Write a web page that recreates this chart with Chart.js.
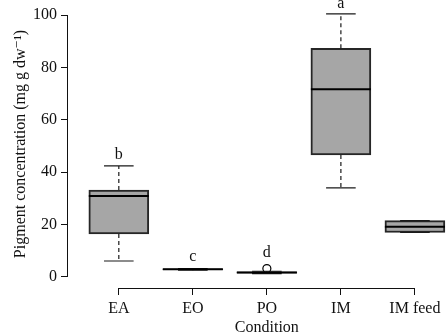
<!DOCTYPE html>
<html>
<head>
<meta charset="utf-8">
<script src="https://cdn.jsdelivr.net/npm/chart.js@4/dist/chart.umd.min.js"></script>
<style>
  html, body { margin: 0; padding: 0; background: #fff; overflow: hidden; }
  #wrap { width: 446px; height: 336px; }
</style>
</head>
<body>
<div id="wrap"><canvas id="chart" width="446" height="336"></canvas></div>
<script>
// data
const categories = ['EA', 'EO', 'PO', 'IM', 'IM feed'];
const mins    = [6.1, 2.6, 1.3, 34.0, 17.0];
const q1s     = [16.4, 2.75, 1.45, 46.6, 17.0];
const medians = [30.9, 2.95, 1.7, 71.7, 19.2];
const q3s     = [33.2, 3.15, 1.95, 87.3, 21.5];
const maxs    = [42.4, 3.25, 2.2, 100.4, 21.5];
const outlierX = [3];
const outlierY = [3.2];
const letters = ['b', 'c', 'd', 'a', ''];
const letterY = [46.6, 7.6, 9.2, 104.2, null];
const yTicks = [0, 20, 40, 60, 80, 100];

const FONT = "'Liberation Serif', 'DejaVu Serif', serif";
const INK = '#111';

// whiskers, caps, medians, letters, R-style axis lines
const boxParts = {
    id: 'boxParts',
    afterDatasetsDraw(chart) {
        const ctx = chart.ctx;
        const xs = chart.scales.x, ys = chart.scales.y;
        const area = chart.chartArea;
        ctx.save();

        // axis lines only over the data range, like R
        ctx.strokeStyle = INK;
        ctx.lineWidth = 1;
        ctx.beginPath();
        ctx.moveTo(area.left + 0.5, ys.getPixelForValue(0));
        ctx.lineTo(area.left + 0.5, ys.getPixelForValue(100));
        ctx.moveTo(xs.getPixelForValue(1), area.bottom + 0.5);
        ctx.lineTo(xs.getPixelForValue(categories.length), area.bottom + 0.5);
        ctx.stroke();

        categories.forEach((c, i) => {
            const cx = xs.getPixelForValue(i + 1);
            const capL = xs.getPixelForValue(i + 1 - 0.2);
            const capR = xs.getPixelForValue(i + 1 + 0.2);
            const halfBox = 30;

            // dashed whiskers
            ctx.strokeStyle = '#1a1a1a';
            ctx.lineWidth = 1.2;
            ctx.setLineDash([4, 3]);
            ctx.beginPath();
            ctx.moveTo(cx, ys.getPixelForValue(q3s[i]));
            ctx.lineTo(cx, ys.getPixelForValue(maxs[i]));
            ctx.moveTo(cx, ys.getPixelForValue(q1s[i]));
            ctx.lineTo(cx, ys.getPixelForValue(mins[i]));
            ctx.stroke();
            ctx.setLineDash([]);

            // caps
            ctx.beginPath();
            ctx.moveTo(capL, ys.getPixelForValue(maxs[i]));
            ctx.lineTo(capR, ys.getPixelForValue(maxs[i]));
            ctx.moveTo(capL, ys.getPixelForValue(mins[i]));
            ctx.lineTo(capR, ys.getPixelForValue(mins[i]));
            ctx.stroke();

            // median
            ctx.strokeStyle = '#000';
            ctx.lineWidth = 2;
            ctx.beginPath();
            ctx.moveTo(cx - halfBox, ys.getPixelForValue(medians[i]));
            ctx.lineTo(cx + halfBox, ys.getPixelForValue(medians[i]));
            ctx.stroke();

            // significance letters
            if (letters[i]) {
                ctx.fillStyle = INK;
                ctx.font = '16px ' + FONT;
                ctx.textAlign = 'center';
                ctx.textBaseline = 'middle';
                ctx.fillText(letters[i], cx, ys.getPixelForValue(letterY[i]));
            }
        });

        // x axis title centred under the ticks
        ctx.fillStyle = INK;
        ctx.font = '16px ' + FONT;
        ctx.textAlign = 'center';
        ctx.textBaseline = 'middle';
        ctx.fillText('Condition', (xs.getPixelForValue(1) + xs.getPixelForValue(categories.length)) / 2, 328);

        ctx.restore();
    }
};

const ctx = document.getElementById('chart').getContext('2d');
new Chart(ctx, {
    type: 'bar',
    data: {
        datasets: [{
            type: 'bar',
            data: categories.map((c, i) => ({ x: i + 1, y: [q1s[i], q3s[i]] })),
            backgroundColor: '#a6a6a6',
            borderColor: '#262626',
            borderWidth: 2,
            borderSkipped: false,
            barThickness: 60,
            order: 2
        }, {
            type: 'scatter',
            data: outlierX.map((x, i) => ({ x: x, y: outlierY[i] })),
            pointStyle: 'circle',
            pointRadius: 4,
            borderColor: '#000',
            borderWidth: 1.2,
            backgroundColor: 'rgba(0,0,0,0)',
            clip: false,
            order: 1
        }]
    },
    options: {
        responsive: false,
        animation: false,
        events: [],
        layout: { padding: 0, autoPadding: false },
        plugins: {
            legend: { display: false },
            tooltip: { enabled: false }
        },
        scales: {
            x: {
                type: 'linear',
                offset: false,
                min: 0.3,
                max: 5.42,
                afterBuildTicks: s => { s.ticks = categories.map((c, i) => ({ value: i + 1 })); },
                afterFit: s => { s.height = 48; s.paddingLeft = 0; s.paddingRight = 0; },
                ticks: {
                    autoSkip: false,
                    maxRotation: 0,
                    padding: 4,
                    color: INK,
                    font: { family: FONT, size: 16 },
                    callback: (v, idx) => categories[idx]
                },
                grid: { offset: false, drawOnChartArea: false, drawTicks: true, tickLength: 7, color: INK, tickColor: INK },
                border: { display: false }
            },
            y: {
                min: -4.2,
                max: 105.73,
                afterBuildTicks: s => { s.ticks = yTicks.map(v => ({ value: v })); },
                afterFit: s => { s.width = 67; s.paddingTop = 0; s.paddingBottom = 0; },
                ticks: {
                    padding: 4,
                    color: INK,
                    font: { family: FONT, size: 16 }
                },
                grid: { drawOnChartArea: false, drawTicks: true, tickLength: 6, color: INK, tickColor: INK },
                border: { display: false },
                title: {
                    display: true,
                    text: 'Pigment concentration (mg g dw⁻¹)',
                    color: INK,
                    font: { family: FONT, size: 16 },
                    padding: { top: 11, bottom: 0 }
                }
            }
        }
    },
    plugins: [boxParts]
});
</script>
</body>
</html>
